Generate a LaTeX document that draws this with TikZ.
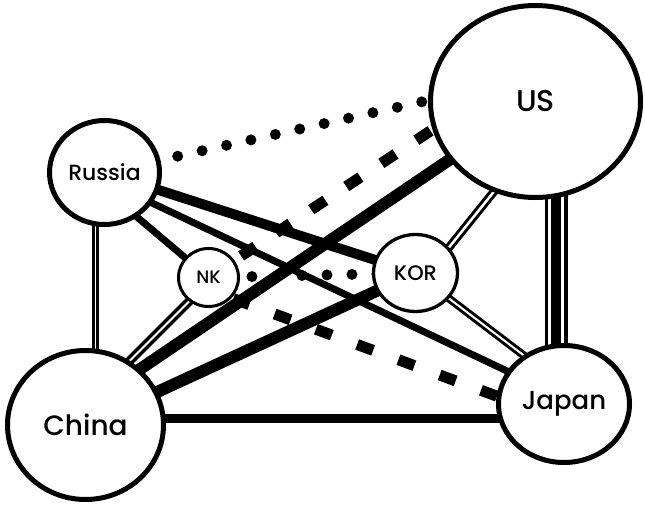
\documentclass[tikz,border=0pt]{standalone}
\usepackage{fontspec}
\setmainfont{Poppins Medium}
\usetikzlibrary{shapes.geometric,calc,backgrounds}
\begin{document}
\begin{tikzpicture}[x=1pt,y=-1pt,
  country/.style={ellipse, draw=black, fill=white, inner sep=0pt, line width=#1},
  dotline/.style={line width=11pt, line cap=round, dash pattern=on 0pt off 25pt},
  dashline/.style={line width=11pt},
  dbl/.style 2 args={draw=black, line width=#1, double=white, double distance=#2},
  solidline/.style={draw=black, line width=#1}
]
\useasboundingbox (0,0) rectangle (645,505);
\node[country=5pt, minimum width=210pt, minimum height=192pt, font=\fontsize{30}{36}\selectfont] (US) at (535.5,101.5) {US};
\node[country=5pt, minimum width=110pt, minimum height=104pt, font=\fontsize{22}{26}\selectfont] (Russia) at (104.5,172.5) {Russia};
\node[country=5pt, minimum width=156pt, minimum height=149pt, font=\fontsize{28}{33}\selectfont] (China) at (85.5,425) {China};
\node[country=5pt, minimum width=131pt, minimum height=117pt, font=\fontsize{26}{31}\selectfont] (Japan) at (564,404) {Japan};
\node[country=3pt, minimum width=60pt, minimum height=58pt, font=\fontsize{18}{22}\selectfont] (NK) at (208.5,277.5) {NK};
\node[country=3.3pt, minimum width=84pt, minimum height=77pt, font=\fontsize{21}{25}\selectfont] (KOR) at (415.5,273) {KOR};
\begin{pgfonlayer}{background}
  % dotted and dashed
  \draw[dotline, dash phase=0pt] (Russia.center) -- ($(US.center)+(0,-25)$);
  \draw[dotline, dash phase=6.5pt] (NK.center) -- (KOR.center);
  \draw[dashline, dash pattern=on 17pt off 25pt, dash phase=2.9pt] (NK.center) -- ($(US.center)+(0,-40)$);
  \draw[dashline, dash pattern=on 17pt off 27pt, dash phase=17.5pt] ($(NK.center)+(0,12)$) -- ($(Japan.center)+(0,17)$);
  % double lines
  \draw[dbl={2.6pt}{1.2pt}] ($(Russia.center)+(-9,0)$) -- ($(China.center)+(10,0)$);
  \draw[dbl={3.5pt}{2pt}] ($(NK.center)+(0,4.5)$) -- ($(China.center)+(0,-20)$);
  \draw[dbl={3pt}{2.5pt}] ($(KOR.center)+(14.5,-2)$) -- ($(US.center)+(0,38.5)$);
  \draw[dbl={3pt}{2pt}] (KOR.center) -- ($(Japan.center)+(0,-18)$);
  % triple line US-Japan
  \draw[solidline=23pt] ($(US.center)+(20.5,0)$) -- ($(Japan.center)+(-8,0)$);
  \draw[draw=white, line width=16pt] ($(US.center)+(20.5,0)$) -- ($(Japan.center)+(-8,0)$);
  \draw[solidline=10pt] ($(US.center)+(20.5,0)$) -- ($(Japan.center)+(-8,0)$);
  % solid lines
  \draw[solidline=7pt] ($(Russia.center)+(0,17)$) -- (NK.center);
  \draw[solidline=10pt] (Russia.center) -- (KOR.center);
  \draw[solidline=7pt] ($(Russia.center)+(0,8)$) -- ($(Japan.center)+(0,-6)$);
  \draw[solidline=12pt] ($(China.center)+(0,-19)$) -- (US.center);
  \draw[solidline=12pt] (China.center) -- (KOR.center);
  \draw[solidline=9pt] ($(China.center)+(0,-7)$) -- ($(Japan.center)+(0,14)$);
\end{pgfonlayer}
\end{tikzpicture}
\end{document}
